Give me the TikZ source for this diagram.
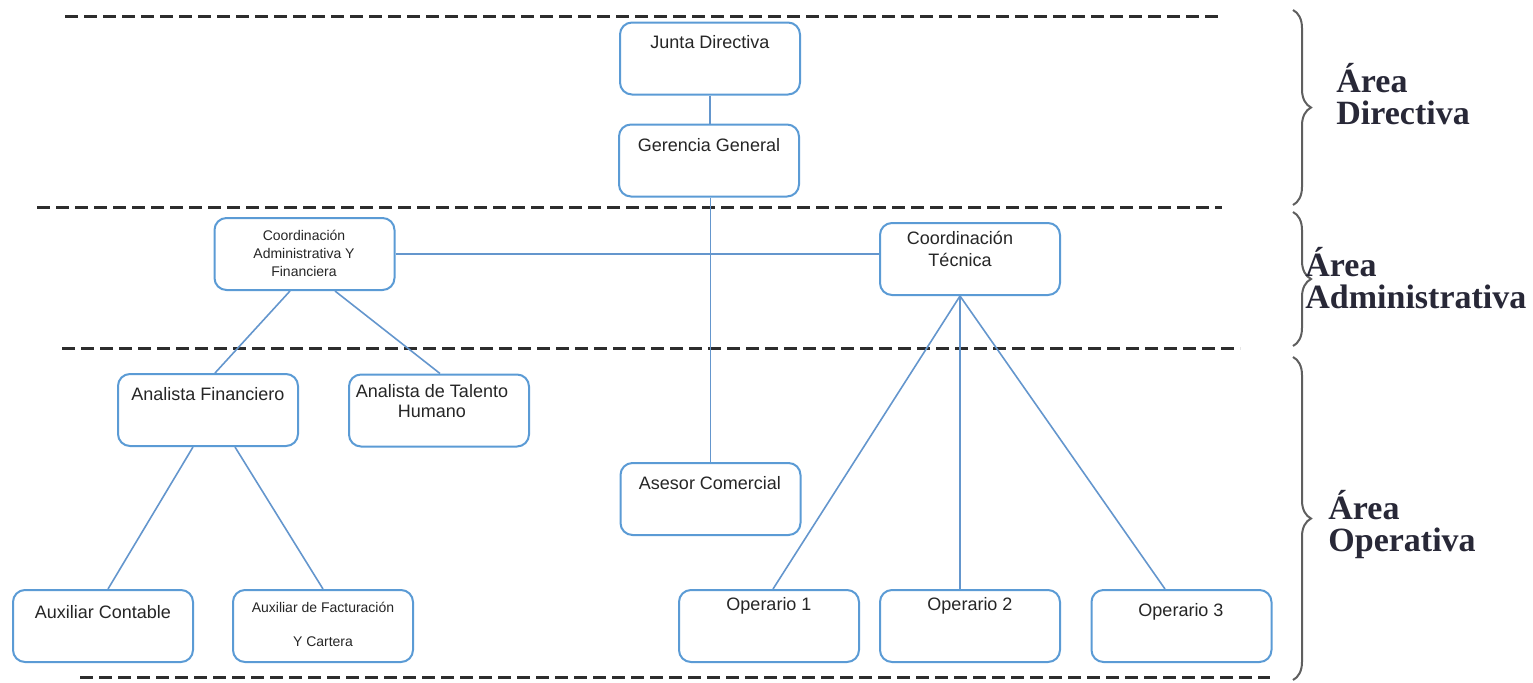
\documentclass[tikz,border=0pt]{standalone}
\usepackage{fontspec}
\setmainfont{Liberation Serif}
\newfontfamily\arialf{Liberation Sans}
\usetikzlibrary{decorations.pathreplacing,calc}
\definecolor{boxblue}{RGB}{91,155,213}
\definecolor{lineblue}{RGB}{100,150,205}
\definecolor{dashgray}{RGB}{45,45,45}
\definecolor{bracegray}{RGB}{95,95,95}
\definecolor{areatext}{RGB}{40,40,55}
\begin{document}
\begin{tikzpicture}[x=0.5pt,y=-0.5pt,
  orgbox/.style={draw=boxblue, line width=1pt, rounded corners=6pt, fill=white,
     minimum width=90pt, minimum height=36pt, inner sep=0pt},
  txt/.style={font=\arialf\fontsize{9}{10}\selectfont, text=black!85, align=center, inner sep=0pt},
  smalltxt/.style={font=\arialf\fontsize{7}{9}\selectfont, text=black!85, align=center, inner sep=0pt},
  conn/.style={draw=lineblue, line width=0.8pt},
  sep/.style={draw=dashgray, line width=1.5pt, dash pattern=on 6.5pt off 3pt},
  areabrace/.style={draw=bracegray, line width=1pt, decorate, decoration={brace, amplitude=9pt}},
  arealabel/.style={font=\bfseries\fontsize{17}{16}\selectfont, text=areatext, align=left, anchor=west, inner sep=0pt}]
\useasboundingbox (0,0) rectangle (1533,682);

% separators
\coordinate (s1a) at (65,16);   \coordinate (s1b) at (1220,16);
\coordinate (s2a) at (37,207);  \coordinate (s2b) at (1222,207);
\coordinate (s3a) at (62,348);  \coordinate (s3b) at (1240,348);
\coordinate (s4a) at (80,677);  \coordinate (s4b) at (1270,677);
\draw[sep] (s1a) -- (s1b);
\draw[sep] (s2a) -- (s2b);
\draw[sep] (s3a) -- (s3b);
\draw[sep] (s4a) -- (s4b);

% boxes
\node[orgbox] (jd)   at (710,58.5) {};
\node[orgbox] (gg)   at (709,160.5) {};
\node[orgbox] (ca)   at (304.5,254) {};
\node[orgbox] (ct)   at (970,259) {};
\node[orgbox] (af)   at (208,410) {};
\node[orgbox] (at)   at (439,410.5) {};
\node[orgbox] (ac)   at (710.5,499) {};
\node[orgbox] (aux1) at (103,626) {};
\node[orgbox] (aux2) at (323,626) {};
\node[orgbox] (op1)  at (769,626) {};
\node[orgbox] (op2)  at (970,626) {};
\node[orgbox] (op3)  at (1181.5,626) {};

% connectors
\draw[conn] (jd.south) -- (jd.south |- gg.north);
\draw[conn] (ac.north |- gg.south) -- (ac.north);
\draw[conn] (ca.east) -- (ca.east -| ct.west);
\draw[conn] ($(ca.south)+(-14.5,0)$) -- ($(af.north)+(7,0)$);
\draw[conn] ($(ca.south)+(30.5,0)$) -- ($(at.north)+(1,0)$);
\draw[conn] ($(af.south)+(-15,0)$) -- ($(aux1.north)+(5,0)$);
\draw[conn] ($(af.south)+(27,0)$) -- (aux2.north);
\draw[conn] ($(ct.south)+(-10,0)$) -- ($(op1.north)+(4,0)$);
\draw[conn] ($(ct.south)+(-10,0)$) -- ($(op2.north)+(-10,0)$);
\draw[conn] ($(ct.south)+(-10,0)$) -- ($(op3.north)+(-16.5,0)$);

% box texts
\node[txt] (tjd) at (710,42) {Junta Directiva};
\node[txt] (tgg) at (709,145) {Gerencia General};
\node[smalltxt] (tca) at (304,253) {Coordinación\\Administrativa Y\\Financiera};
\node[txt, font=\arialf\fontsize{9}{11}\selectfont] (tct) at (960,249) {Coordinación\\Técnica};
\node[txt] (taf) at (208,394) {Analista Financiero};
\node[txt] (tat) at (432,401) {Analista de Talento\\Humano};
\node[txt] (tac) at (710,483) {Asesor Comercial};
\node[txt] (taux1) at (103,612) {Auxiliar Contable};
\node[smalltxt, font=\arialf\fontsize{7}{17}\selectfont] (taux2) at (323,624) {Auxiliar de Facturación\\Y Cartera};
\node[txt] (top1) at (769,606) {Operario 1};
\node[txt] (top2) at (970,606) {Operario 2};
\node[txt] (top3) at (1181,612) {Operario 3};

% braces
\coordinate (b1a) at (1293,10);  \coordinate (b1b) at (1293,205);
\coordinate (b2a) at (1293,212); \coordinate (b2b) at (1293,346);
\coordinate (b3a) at (1293,357); \coordinate (b3b) at (1293,680);
\draw[areabrace] (b1a) -- (b1b);
\draw[areabrace] (b2a) -- (b2b);
\draw[areabrace] (b3a) -- (b3b);

% area labels
\node[arealabel] (l1) at (1336,94) {Área\\Directiva};
\node[arealabel] (l2) at (1305,278) {Área\\Administrativa};
\node[arealabel] (l3) at (1328,525) {Área\\Operativa};
\end{tikzpicture}
\end{document}
